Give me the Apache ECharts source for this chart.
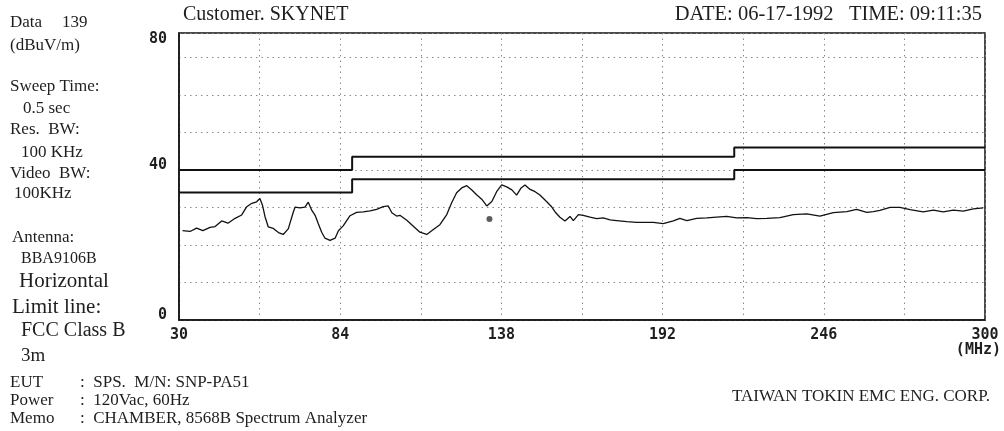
<!DOCTYPE html>
<html>
<head>
<meta charset="utf-8">
<title>Radiated emission scan 30-300 MHz</title>
<script src="https://cdn.jsdelivr.net/npm/echarts@6/dist/echarts.min.js"></script>
<style>
  html, body { margin: 0; padding: 0; background: #fff; }
  #chart { width: 1004px; height: 431px; }
</style>
</head>
<body>
<div id="chart"></div>
<script>
// axis labels
const xTickLabels = [30, 84, 138, 192, 246, 300]
const yTickLabels = [0, 40, 80]

// measured trace, MHz / dBuV/m
const traceFreq = [
  31.2, 33.7, 35.9, 38.0, 40.4, 42.1, 44.3, 46.4, 48.8, 51.0,
  52.7, 54.4, 56.0, 57.1, 58.0, 58.8, 59.9, 61.6, 63.3, 64.9,
  66.6, 68.3, 68.9, 70.5, 72.2, 73.3, 74.5, 75.6, 76.7, 77.8,
  78.9, 80.6, 82.3, 83.4, 85.0, 87.3, 89.5, 91.7, 94.0, 96.2,
  98.4, 100.1, 101.3, 102.9, 104.0, 106.3, 108.5, 110.7, 113.0, 115.2,
  117.4, 119.7, 121.3, 123.0, 124.7, 126.4, 128.0, 129.7, 131.4, 133.1,
  134.8, 136.4, 138.1, 139.8, 141.5, 143.1, 144.5, 145.9, 147.6, 149.3,
  150.9, 153.2, 154.9, 156.0, 157.6, 159.3, 161.0, 162.1, 163.8, 165.4,
  167.7, 169.9, 172.1, 174.4, 176.6, 180.0, 183.3, 188.9, 192.2, 195.6,
  197.8, 200.1, 203.4, 206.8, 210.1, 213.5, 216.8, 220.2, 223.5, 226.9,
  231.3, 235.8, 240.3, 244.7, 249.2, 253.7, 257.0, 260.4, 262.6, 264.8,
  268.2, 271.5, 274.9, 279.3, 282.7, 286.0, 289.4, 292.7, 296.1, 299.4
]
const traceLevel = [
  23.8, 23.6, 24.5, 23.8, 24.7, 24.9, 26.4, 25.8, 27.1, 28.0,
  30.2, 31.1, 31.5, 32.4, 30.5, 27.6, 24.8, 24.4, 23.3, 22.8,
  24.3, 28.8, 30.1, 29.9, 30.1, 31.4, 29.2, 27.9, 25.6, 23.4,
  21.8, 21.2, 21.8, 23.8, 25.1, 27.8, 28.7, 28.8, 29.1, 29.5,
  30.2, 30.4, 28.6, 27.7, 27.9, 26.6, 25.0, 23.4, 22.8, 24.1,
  25.4, 28.1, 31.2, 33.9, 35.2, 35.8, 34.7, 33.4, 32.2, 30.4,
  31.6, 34.2, 36.0, 35.5, 34.7, 33.3, 35.1, 36.0, 34.8, 34.2,
  33.3, 31.5, 30.1, 28.8, 27.4, 26.4, 27.6, 26.5, 28.1, 27.9,
  27.4, 27.0, 27.2, 26.7, 26.5, 26.2, 26.0, 26.0, 25.7, 26.4,
  27.1, 26.5, 27.1, 27.2, 27.4, 27.6, 27.2, 27.3, 27.0, 27.1,
  27.3, 28.1, 28.3, 27.7, 28.6, 28.9, 29.5, 28.7, 28.9, 29.2,
  30.0, 30.0, 29.4, 28.8, 29.3, 28.8, 29.3, 29.0, 29.6, 29.9
]

// FCC class B limit and the -6 dB line under it
const limitFreq = [30, 88, 88, 216, 216, 300]
const limitLevel = [40, 40, 43.5, 43.5, 46, 46]
const marginLevel = [34, 34, 37.5, 37.5, 40, 40]

// single marked reading
const markFreq = [134]
const markLevel = [26.9]

const zip = (a, b) => a.map((v, i) => [v, b[i]])

const serif = 'Liberation Serif'
const ink = '#1e1e1e'
function txt(x, y, s, size, align) {
  return {
    type: 'text',
    x: x,
    y: y,
    style: {
      text: s,
      fill: ink,
      font: size + 'px "' + serif + '"',
      textAlign: align || 'left',
      textVerticalAlign: 'middle'
    }
  }
}

const chart = echarts.init(document.getElementById('chart'))
chart.setOption({
  backgroundColor: '#fff',
  animation: false,
  grid: {
    left: 179,
    right: 19,
    top: 33,
    bottom: 111,
    show: true,
    borderColor: '#111',
    borderWidth: 1.5
  },
  xAxis: {
    type: 'value',
    min: 30,
    max: 300,
    interval: 27,
    axisLine: { show: true, lineStyle: { color: '#111', width: 1.5 } },
    axisTick: { show: false },
    splitLine: { show: true, lineStyle: { color: '#8a8a8a', width: 1, type: [1.5, 4] } },
    axisLabel: {
      margin: 8,
      color: ink,
      fontFamily: 'DejaVu Sans Mono',
      fontWeight: 'bold',
      fontSize: 15,
      formatter(v) {
        return xTickLabels.indexOf(Math.round(v)) >= 0 ? String(Math.round(v)) : ''
      }
    }
  },
  yAxis: {
    type: 'value',
    min: 0,
    max: 76.5,
    interval: 10,
    axisLine: { show: true, lineStyle: { color: '#111', width: 1.5 } },
    axisTick: { show: false },
    splitLine: { show: true, lineStyle: { color: '#8a8a8a', width: 1, type: [1.5, 4] } },
    axisLabel: {
      margin: 12,
      color: ink,
      fontFamily: 'DejaVu Sans Mono',
      fontWeight: 'bold',
      fontSize: 15,
      formatter(v) {
        if (v > 76) return '{dn|' + yTickLabels[2] + '}'
        if (v === 0) return '{up|' + yTickLabels[0] + '}'
        if (v === 40) return '{up|' + yTickLabels[1] + '}'
        return ''
      },
      rich: {
        up: { padding: [0, 0, 10, 0], fontFamily: 'DejaVu Sans Mono', fontWeight: 'bold', fontSize: 15, color: ink },
        dn: { padding: [12, 0, 0, 0], fontFamily: 'DejaVu Sans Mono', fontWeight: 'bold', fontSize: 15, color: ink }
      }
    }
  },
  series: [
    {
      name: 'Limit',
      type: 'line',
      data: zip(limitFreq, limitLevel),
      showSymbol: false,
      lineStyle: { color: '#111', width: 2 }
    },
    {
      name: 'Limit -6dB',
      type: 'line',
      data: zip(limitFreq, marginLevel),
      showSymbol: false,
      lineStyle: { color: '#111', width: 2 }
    },
    {
      name: 'Data',
      type: 'line',
      data: zip(traceFreq, traceLevel),
      showSymbol: false,
      lineStyle: { color: '#111', width: 1.3 }
    },
    {
      name: 'Mark',
      type: 'scatter',
      data: zip(markFreq, markLevel),
      symbolSize: 6,
      itemStyle: { color: '#333' }
    }
  ],
  graphic: [
    txt(183, 15, 'Customer. SKYNET', 20),
    txt(982, 15, 'DATE: 06-17-1992   TIME: 09:11:35', 20.5, 'right'),
    txt(10, 23, 'Data', 17),
    txt(62, 23, '139', 17),
    txt(10, 46, '(dBuV/m)', 17),
    txt(10, 87, 'Sweep Time:', 17),
    txt(23, 109, '0.5 sec', 17),
    txt(10, 130, 'Res.  BW:', 17),
    txt(21, 153, '100 KHz', 17),
    txt(10, 174, 'Video  BW:', 17),
    txt(14, 194, '100KHz', 17),
    txt(12, 238, 'Antenna:', 17),
    txt(21, 259, 'BBA9106B', 16),
    txt(19, 281, 'Horizontal', 21),
    txt(12, 307, 'Limit line:', 21),
    txt(21, 331, 'FCC Class B', 20),
    txt(21, 356, '3m', 19),
    txt(10, 383, 'EUT', 17),
    txt(80, 383, ':  SPS.  M/N: SNP-PA51', 17),
    txt(10, 401, 'Power', 17),
    txt(80, 401, ':  120Vac, 60Hz', 17),
    txt(10, 419, 'Memo', 17),
    txt(80, 419, ':  CHAMBER, 8568B Spectrum Analyzer', 17),
    txt(990, 397, 'TAIWAN TOKIN EMC ENG. CORP.', 17, 'right'),
    {
      type: 'text',
      x: 1001,
      y: 350,
      style: {
        text: '(MHz)',
        fill: ink,
        font: 'bold 15px "DejaVu Sans Mono"',
        textAlign: 'right',
        textVerticalAlign: 'middle'
      }
    }
  ]
})
</script>
</body>
</html>
